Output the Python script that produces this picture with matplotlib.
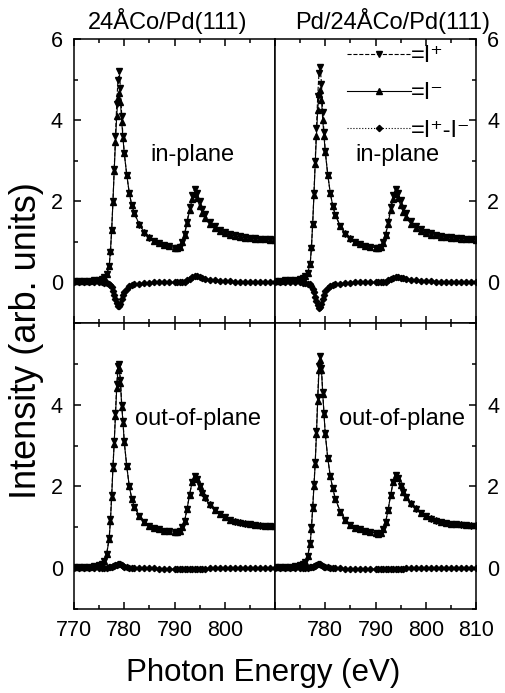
"""Co L-edge XMCD spectra, 24A Co/Pd(111) and Pd/24A Co/Pd(111),
    in-plane (top) and out-of-plane (bottom). Values read off the scanned figure.
"""

import numpy as np
import matplotlib.pyplot as plt
from matplotlib.ticker import MultipleLocator

plt.rcParams['font.family'] = ['Liberation Sans', 'DejaVu Sans']

# photon energy grid (eV), finer around the L3 / L2 peaks
energy = [770, 771, 772, 773, 774, 775, 775.5, 776, 776.5, 777,
          777.25, 777.5, 777.75, 778, 778.25, 778.5, 778.75, 779, 779.25, 779.5,
          779.75, 780, 780.5, 781, 781.5, 782, 783, 784, 785, 786,
          787, 788, 789, 790, 790.5, 791, 791.5, 792, 792.5, 793,
          793.5, 794, 794.5, 795, 795.5, 796, 797, 798, 799, 800,
          801, 802, 803, 804, 805, 806, 807, 808, 809, 810]

# --- 24ACo/Pd(111), in-plane
ip_co_plus = [0.03, 0.03, 0.04, 0.04, 0.05, 0.07, 0.09, 0.13, 0.20, 0.40,
              0.75, 1.30, 2.00, 2.80, 3.60, 4.40, 5.00, 5.20, 4.80, 4.10,
              3.60, 3.20, 2.65, 2.20, 1.90, 1.70, 1.42, 1.23, 1.10, 1.02,
              0.96, 0.92, 0.89, 0.86, 0.85, 0.88, 1.00, 1.20, 1.50, 1.85,
              2.15, 2.30, 2.20, 2.00, 1.82, 1.68, 1.50, 1.38, 1.30, 1.24,
              1.20, 1.17, 1.14, 1.12, 1.10, 1.09, 1.08, 1.07, 1.06, 1.05]
ip_co_minus = [0.03, 0.03, 0.04, 0.04, 0.05, 0.07, 0.09, 0.13, 0.20, 0.41,
               0.77, 1.30, 1.98, 2.75, 3.45, 4.10, 4.55, 4.68, 4.45, 3.95,
               3.55, 3.18, 2.65, 2.21, 1.90, 1.71, 1.43, 1.24, 1.11, 1.02,
               0.96, 0.92, 0.89, 0.86, 0.85, 0.88, 0.99, 1.18, 1.46, 1.78,
               2.05, 2.17, 2.07, 1.88, 1.72, 1.59, 1.43, 1.33, 1.26, 1.21,
               1.17, 1.15, 1.12, 1.10, 1.09, 1.08, 1.07, 1.06, 1.05, 1.04]
ip_co_diff = [0.00, 0.00, 0.00, 0.00, 0.00, 0.00, 0.00, -0.01, -0.02, -0.04,
              -0.07, -0.12, -0.20, -0.30, -0.40, -0.50, -0.57, -0.58, -0.52, -0.42,
              -0.32, -0.24, -0.15, -0.10, -0.07, -0.05, -0.03, -0.02, -0.01, 0.00,
              0.00, 0.00, 0.00, 0.00, 0.00, 0.00, 0.01, 0.02, 0.05, 0.09,
              0.13, 0.15, 0.15, 0.13, 0.11, 0.09, 0.07, 0.05, 0.04, 0.03,
              0.03, 0.02, 0.02, 0.02, 0.01, 0.01, 0.01, 0.01, 0.00, 0.00]

# --- Pd/24ACo/Pd(111), in-plane
ip_pd_plus = [0.04, 0.04, 0.05, 0.05, 0.06, 0.08, 0.10, 0.15, 0.24, 0.45,
              0.85, 1.45, 2.20, 3.00, 3.80, 4.60, 5.15, 5.30, 4.90, 4.20,
              3.70, 3.25, 2.65, 2.20, 1.88, 1.66, 1.38, 1.20, 1.08, 1.00,
              0.95, 0.91, 0.88, 0.86, 0.85, 0.88, 0.99, 1.18, 1.48, 1.85,
              2.15, 2.30, 2.21, 2.02, 1.84, 1.70, 1.52, 1.40, 1.31, 1.25,
              1.21, 1.18, 1.15, 1.13, 1.11, 1.10, 1.09, 1.08, 1.07, 1.06]
ip_pd_minus = [0.04, 0.04, 0.05, 0.05, 0.06, 0.08, 0.10, 0.15, 0.24, 0.46,
               0.87, 1.45, 2.15, 2.92, 3.62, 4.25, 4.65, 4.75, 4.50, 4.00,
               3.60, 3.22, 2.65, 2.21, 1.88, 1.67, 1.39, 1.21, 1.09, 1.00,
               0.95, 0.91, 0.88, 0.86, 0.85, 0.88, 0.98, 1.16, 1.44, 1.78,
               2.05, 2.17, 2.08, 1.90, 1.74, 1.61, 1.45, 1.35, 1.27, 1.22,
               1.18, 1.16, 1.13, 1.11, 1.10, 1.09, 1.08, 1.07, 1.06, 1.05]
ip_pd_diff = [0.00, 0.00, 0.00, 0.00, 0.00, 0.00, -0.01, -0.01, -0.03, -0.05,
              -0.09, -0.15, -0.24, -0.35, -0.46, -0.56, -0.62, -0.60, -0.52, -0.40,
              -0.30, -0.22, -0.14, -0.09, -0.06, -0.04, -0.03, -0.02, -0.01, 0.00,
              0.00, 0.00, 0.00, 0.00, 0.00, 0.00, 0.01, 0.02, 0.05, 0.09,
              0.12, 0.14, 0.14, 0.12, 0.10, 0.08, 0.06, 0.05, 0.04, 0.03,
              0.03, 0.02, 0.02, 0.02, 0.01, 0.01, 0.01, 0.01, 0.01, 0.00]

# --- 24ACo/Pd(111), out-of-plane
op_co_plus = [0.02, 0.02, 0.03, 0.04, 0.05, 0.08, 0.11, 0.18, 0.35, 0.75,
              1.20, 1.80, 2.50, 3.10, 3.80, 4.50, 4.95, 5.00, 4.60, 4.00,
              3.60, 3.10, 2.50, 2.00, 1.70, 1.50, 1.28, 1.13, 1.04, 0.98,
              0.95, 0.92, 0.90, 0.88, 0.88, 0.90, 1.00, 1.15, 1.45, 1.80,
              2.10, 2.25, 2.18, 2.00, 1.85, 1.72, 1.55, 1.42, 1.32, 1.24,
              1.18, 1.14, 1.11, 1.09, 1.07, 1.05, 1.04, 1.03, 1.02, 1.01]
op_co_minus = [0.02, 0.02, 0.03, 0.04, 0.05, 0.08, 0.11, 0.18, 0.34, 0.72,
               1.15, 1.75, 2.45, 3.05, 3.72, 4.40, 4.85, 4.90, 4.52, 3.95,
               3.56, 3.08, 2.49, 2.00, 1.70, 1.50, 1.28, 1.13, 1.04, 0.98,
               0.95, 0.92, 0.90, 0.88, 0.88, 0.90, 1.00, 1.15, 1.45, 1.80,
               2.10, 2.26, 2.19, 2.01, 1.86, 1.73, 1.56, 1.43, 1.33, 1.25,
               1.19, 1.15, 1.12, 1.10, 1.08, 1.06, 1.05, 1.04, 1.03, 1.02]
op_co_diff = [0.00, 0.00, 0.00, 0.00, 0.00, 0.00, 0.00, 0.00, 0.01, 0.02,
              0.03, 0.04, 0.05, 0.06, 0.07, 0.08, 0.09, 0.10, 0.09, 0.07,
              0.05, 0.04, 0.02, 0.01, 0.00, 0.00, 0.00, 0.00, 0.00, 0.00,
              -0.01, -0.01, -0.01, -0.02, -0.02, -0.02, -0.02, -0.02, -0.02, -0.02,
              -0.02, -0.02, -0.01, -0.01, -0.01, -0.01, 0.00, 0.00, 0.00, 0.00,
              0.00, 0.00, 0.00, 0.00, 0.00, 0.00, 0.00, 0.00, 0.00, 0.00]

# --- Pd/24ACo/Pd(111), out-of-plane
op_pd_plus = [0.02, 0.02, 0.03, 0.04, 0.05, 0.07, 0.10, 0.16, 0.30, 0.62,
              1.00, 1.50, 2.05, 2.60, 3.35, 4.20, 4.95, 5.20, 4.90, 4.30,
              3.80, 3.30, 2.70, 2.25, 1.95, 1.70, 1.38, 1.18, 1.06, 0.99,
              0.95, 0.91, 0.88, 0.86, 0.84, 0.86, 0.95, 1.12, 1.42, 1.78,
              2.10, 2.27, 2.20, 2.02, 1.86, 1.74, 1.58, 1.45, 1.35, 1.27,
              1.21, 1.16, 1.12, 1.10, 1.08, 1.07, 1.06, 1.05, 1.04, 1.04]
op_pd_minus = [0.02, 0.02, 0.03, 0.04, 0.05, 0.07, 0.10, 0.16, 0.29, 0.60,
               0.97, 1.46, 2.00, 2.55, 3.28, 4.10, 4.85, 5.10, 4.84, 4.26,
               3.77, 3.28, 2.69, 2.25, 1.95, 1.70, 1.38, 1.18, 1.06, 0.99,
               0.95, 0.91, 0.88, 0.86, 0.84, 0.86, 0.95, 1.12, 1.42, 1.78,
               2.10, 2.28, 2.21, 2.03, 1.87, 1.75, 1.59, 1.46, 1.36, 1.28,
               1.22, 1.17, 1.13, 1.11, 1.09, 1.08, 1.07, 1.06, 1.05, 1.05]
op_pd_diff = [0.00, 0.00, 0.00, 0.00, 0.00, 0.00, 0.00, 0.00, 0.01, 0.02,
              0.03, 0.04, 0.05, 0.06, 0.07, 0.09, 0.10, 0.10, 0.08, 0.06,
              0.04, 0.03, 0.02, 0.01, 0.00, 0.00, 0.00, -0.01, -0.01, -0.01,
              -0.01, -0.01, -0.02, -0.02, -0.02, -0.02, -0.02, -0.02, -0.02, -0.02,
              -0.01, -0.01, -0.01, -0.01, -0.01, 0.00, 0.00, 0.00, 0.00, 0.00,
              0.00, 0.00, 0.00, 0.00, 0.00, 0.00, 0.00, 0.00, 0.00, 0.00]

sample_titles = ['24\u00c5Co/Pd(111)', 'Pd/24\u00c5Co/Pd(111)']
legend_labels = ['=I\u207a', '=I\u207b', '=I\u207a-I\u207b']
x_ticks = [770, 780, 790, 800, 810]
y_ticks = [0, 2, 4, 6]


# layout in pixels of the 505x693 reference
W, H = 505., 693.
x_left, x_mid, x_right = 74 / W, 275 / W, 476 / W
y_top, y_mid, y_bot = 1 - 39 / H, 1 - 323 / H, 1 - 609 / H

fig = plt.figure(figsize=(5.05, 6.93), dpi=100)
ax_tl = fig.add_axes([x_left, y_mid, x_mid - x_left, y_top - y_mid])
ax_tr = fig.add_axes([x_mid, y_mid, x_right - x_mid, y_top - y_mid])
ax_bl = fig.add_axes([x_left, y_bot, x_mid - x_left, y_mid - y_bot])
ax_br = fig.add_axes([x_mid, y_bot, x_right - x_mid, y_mid - y_bot])

panels = [
    (ax_tl, ip_co_plus, ip_co_minus, ip_co_diff, 'in-plane', (793.5, 3.15)),
    (ax_tr, ip_pd_plus, ip_pd_minus, ip_pd_diff, 'in-plane', (794.3, 3.15)),
    (ax_bl, op_co_plus, op_co_minus, op_co_diff, 'out-of-plane', (794.7, 3.66)),
    (ax_br, op_pd_plus, op_pd_minus, op_pd_diff, 'out-of-plane', (795.3, 3.66)),
]

for ax, plus, minus, diff, txt, txt_xy in panels:
    ax.plot(energy, plus, ls='--', marker='v', color='k', lw=0.8, ms=4.5,
            label=legend_labels[0])
    ax.plot(energy, minus, ls='-', marker='^', color='k', lw=0.8, ms=4.5,
            label=legend_labels[1])
    ax.plot(energy, diff, ls=':', marker='D', color='k', lw=0.8, ms=3.2,
            label=legend_labels[2])
    ax.text(txt_xy[0], txt_xy[1], txt, ha='center', va='center', fontsize=17)

    ax.set_xlim(770, 810)
    ax.set_ylim(-1, 6)
    ax.xaxis.set_minor_locator(MultipleLocator(5))
    ax.yaxis.set_minor_locator(MultipleLocator(1))
    for sp in ax.spines.values():
        sp.set_linewidth(1.1)

for ax, is_left, is_bottom in [(ax_tl, True, False), (ax_tr, False, False),
                               (ax_bl, True, True), (ax_br, False, True)]:
    ax.set_xticks(x_ticks)
    ax.set_yticks(y_ticks)
    # drop the labels that would collide at the shared edges
    xlab = [str(t) for t in x_ticks]
    if is_left:
        xlab[-1] = ''
    else:
        xlab[0] = ''
    ax.set_xticklabels(xlab)
    ylab = [str(t) for t in y_ticks]
    if is_bottom:
        ylab[-1] = ''
    ax.set_yticklabels(ylab)
    ax.tick_params(which='both', direction='in', top=True, bottom=True,
                   left=is_left, right=not is_left,
                   labelleft=is_left, labelright=not is_left,
                   labelbottom=is_bottom, labelsize=15.5, pad=8)
    ax.tick_params(which='major', length=5, width=1.1)
    ax.tick_params(which='minor', length=3, width=1.1)

leg = ax_tr.legend(loc='upper right', frameon=False, fontsize=17, numpoints=1,
                   handlelength=2.7, handletextpad=0.0, labelspacing=0.65,
                   borderpad=0.15, borderaxespad=0.1)

fig.text(167.5 / W, 1 - 29 / H, sample_titles[0], ha='center', va='baseline',
         fontsize=17)
fig.text(392.7 / W, 1 - 29 / H, sample_titles[1], ha='center', va='baseline',
         fontsize=17)
fig.text(27 / W, 1 - 341 / H, 'Intensity (arb. units)', rotation=90,
         ha='center', va='center', fontsize=26)
fig.text(263 / W, 1 - 673 / H, 'Photon Energy (eV)', ha='center', va='center',
         fontsize=22.5)

fig.savefig('out.png', dpi=100)
